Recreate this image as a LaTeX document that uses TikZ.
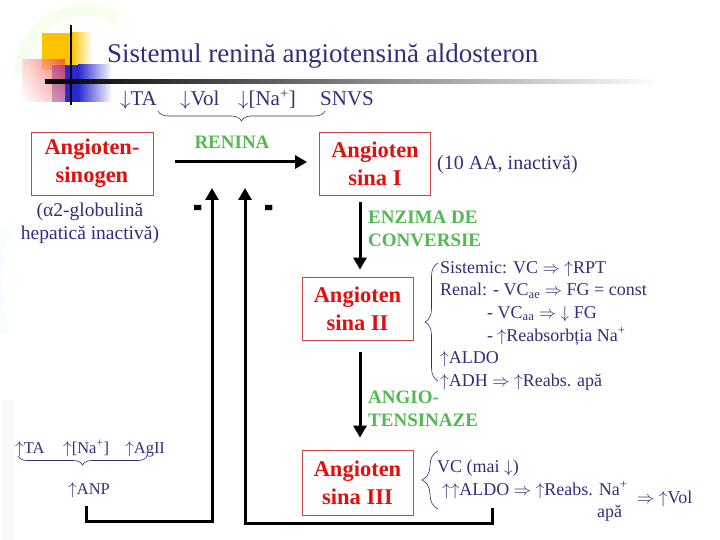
\documentclass[tikz,border=0pt]{standalone}
\usepackage{fontspec}
\setmainfont{Liberation Serif}
\usepackage{xcolor}
\usetikzlibrary{arrows.meta,decorations.pathreplacing,positioning,shadings}

\definecolor{inkblue}{RGB}{48,46,125}
\definecolor{boxred}{RGB}{205,70,70}
\definecolor{subred}{RGB}{225,15,15}
\definecolor{enzgreen}{RGB}{80,185,80}
\definecolor{sqyellow}{RGB}{255,196,0}
\definecolor{sqblue}{RGB}{40,40,205}
\definecolor{sqred}{RGB}{245,60,60}

\newcommand{\arup}{$\uparrow$}
\newcommand{\ardn}{$\downarrow$}
\newcommand{\arimp}{$\Rightarrow$}

\tikzset{
  substance/.style={draw=boxred, line width=0.8pt, text=subred, align=center,
    font=\fontsize{22.5}{28}\selectfont\bfseries, inner sep=0pt,
    minimum width=111pt, minimum height=63pt},
  enzyme/.style={text=enzgreen, align=left, inner sep=0pt,
    font=\fontsize{19}{23.5}\selectfont\bfseries},
  note/.style={text=inkblue, inner sep=0pt, font=\fontsize{18}{22.6}\selectfont},
  flow/.style={line width=3pt, -{Triangle[length=12pt,width=13pt]}},
  grp/.style={draw=inkblue, line width=0.6pt, decorate, decoration={brace,amplitude=#1}},
  grp/.default=10pt,
  negmark/.style={inner sep=0pt, font=\fontsize{28}{28}\selectfont\bfseries},
}

\begin{document}
\begin{tikzpicture}[x=1pt,y=-1pt]
    \useasboundingbox (0,0) rectangle (720,540);

    % faint background
    \draw[line width=12pt, green!50!yellow, opacity=0.07] (20,75) arc[start angle=180, end angle=300, radius=65];
    \draw[line width=10pt, cyan!40, opacity=0.08] (6,230) arc[start angle=200, end angle=160, radius=150];
    \draw[line width=12pt, violet!40, opacity=0.08] (8,400) -- (8,540);

    % corner squares
    \fill[sqyellow] (42,33) rectangle (72,70);
    \shade[left color=sqyellow, right color=white] (72,33) rectangle (92,70);
    \fill[sqblue] (52,65) rectangle (78,102);
    \shade[left color=sqblue, right color=white] (78,65) rectangle (112,102);
    \shade[upper right=sqred, upper left=sqred!25, lower right=sqred!45, lower left=white, opacity=0.75] (22,60) rectangle (65,102);
    \draw[line width=2pt] (71,25) -- (71,105);
    \shade[left color=black, middle color=gray!70, right color=white] (45,80) rectangle (660,84);

    \node[note, font=\fontsize{27}{30}\selectfont, anchor=base west] (title) at (107,63) {Sistemul renină angiotensină aldosteron};

    \node[note, font=\fontsize{21}{24}\selectfont, anchor=base west] (lowTA) at (120,106) {\ardn TA};
    \node[note, font=\fontsize{21}{24}\selectfont, anchor=base west] (lowVol) at (180,106) {\ardn Vol};
    \node[note, font=\fontsize{21}{24}\selectfont, anchor=base west] (lowNa) at (238,106) {\ardn[Na\textsuperscript{+}]};
    \node[note, font=\fontsize{21}{24}\selectfont, anchor=base west] (snvs) at (320,106) {SNVS};
    \draw[grp, decoration={mirror}] (158,111) -- (325,111);

    \node[substance, minimum width=122pt] (agen) at (92,163.5) {Angioten-\\sinogen};
    \node[substance] (ang1) at (375,163.5) {Angioten\\sina I};
    \node[substance] (ang2) at (357.5,308.5) {Angioten\\sina II};
    \node[substance, minimum height=65pt] (ang3) at (357.5,482.5) {Angioten\\sina III};

    \node[note, font=\fontsize{19.5}{23}\selectfont, align=center] (agennote) at (90,223.5) {(α2-globulină\\hepatică inactivă)};
    \node[note, font=\fontsize{20}{22}\selectfont, anchor=west] (ang1note) at (437,165) {(10 AA, inactivă)};

    \node[enzyme] (renina) at (232,142) {RENINA};
    \node[enzyme, anchor=north west] (eca) at (368,210.5) {ENZIMA DE\\CONVERSIE};
    \node[enzyme, anchor=north west] (angiot) at (368,390.5) {ANGIO-\\TENSINAZE};

    \draw[flow] ([xshift=22pt,yshift=1.5pt]agen.east) -- ([xshift=-12pt,yshift=1.5pt]ang1.west);
    \draw[flow] ([xshift=-15pt,yshift=-7pt]ang1.south) -- ([xshift=2.5pt,yshift=7pt]ang2.north);
    \draw[flow] ([xshift=2.5pt,yshift=-12pt]ang2.south) -- ([xshift=2.5pt,yshift=12pt]ang3.north);

    % effects of Ang II
    \node[note, align=left, anchor=north west] (ang2fx) at (440,261) {Sistemic: VC \arimp\ \arup RPT\\
        Renal: - VC\textsubscript{ae} \arimp\ FG = const\\
        \hspace*{47pt}- VC\textsubscript{aa} \arimp\ \ardn\ FG\\
        \hspace*{47pt}- \arup Reabsorbția Na\textsuperscript{+}\\
        \arup ALDO\\
        \arup ADH \arimp\ \arup Reabs. apă};
    \draw[grp=13pt] (438,381) -- (438,263);

    % effects of Ang III
    \node[note, anchor=base west] (vcmai) at (437,472) {VC (mai \ardn)};
    \node[note, anchor=base west] (aldo3) at (442,495) {\arup\arup ALDO \arimp\ \arup Reabs. Na\textsuperscript{+}};
    \node[note, anchor=base west] (apa3) at (597,517) {apă};
    \node[note, anchor=base west] (vol3) at (637,503) {\arimp\ \arup Vol};
    \draw[grp=16pt] (438,509) -- (438,451);

    % ANP branch
    \node[note, font=\fontsize{16.5}{20}\selectfont, anchor=base west] (hiTA) at (15,453) {\arup TA};
    \node[note, font=\fontsize{16.5}{20}\selectfont, anchor=base west] (hiNa) at (63,453) {\arup[Na\textsuperscript{+}]};
    \node[note, font=\fontsize{16.5}{20}\selectfont, anchor=base west] (hiAg) at (125,453) {\arup AgII};
    \draw[grp=9pt, decoration={mirror}] (18,456) -- (147,456);
    \node[note, font=\fontsize{16.5}{20}\selectfont, anchor=base west] (anp) at (68,494) {\arup ANP};

    % negative feedback
    \coordinate (inhA) at (212,188);
    \coordinate (inhB) at (245,188);
    \coordinate (anpfoot) at (86,506);
    \coordinate (ang3foot) at (492,508);
    \draw[flow] (anpfoot) -- ++(0,15) -| (inhA);
    \draw[flow] (ang3foot) -- ++(0,15) -| (inhB);
    \node[negmark] (negA) at (198,213.5) {\scalebox{1}[2.2]{-}};
    \node[negmark] (negB) at (269,213.5) {\scalebox{1}[2.2]{-}};
\end{tikzpicture}
\end{document}
